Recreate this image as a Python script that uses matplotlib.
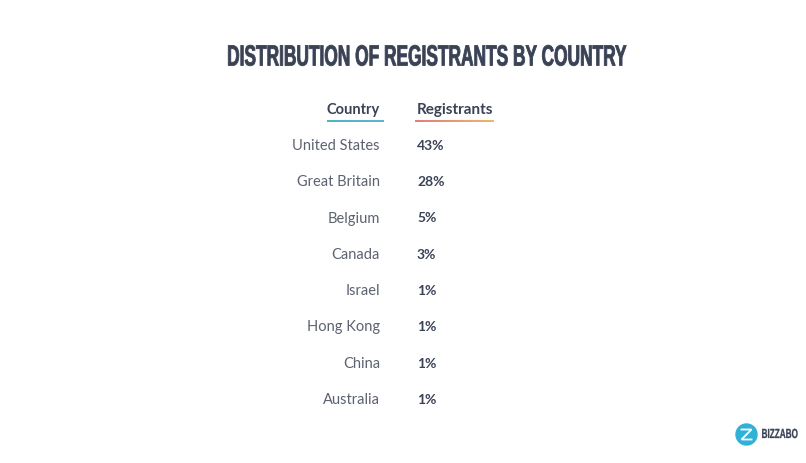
import numpy as np
import matplotlib
matplotlib.use('Agg')
import matplotlib.pyplot as plt
import matplotlib.patheffects as pe
from matplotlib.colors import LinearSegmentedColormap
from matplotlib.patches import Circle
from matplotlib.transforms import Affine2D

countries = ['United States', 'Great Britain', 'Belgium', 'Canada',
             'Israel', 'Hong Kong', 'China', 'Australia']
registrants = [43, 28, 5, 3, 1, 1, 1, 1]
title = 'DISTRIBUTION OF REGISTRANTS BY COUNTRY'
dark = '#3a4256'
grey = '#5c6270'


class SqueezeX(pe.AbstractPathEffect):
    # no condensed font here, so squeeze the glyphs about a pixel column
    def __init__(self, sx, x0, lw=0.0):
        super().__init__()
        self.sx = sx
        self.x0 = x0
        self.lw = lw

    def draw_path(self, renderer, gc, tpath, affine, rgbFace=None):
        aff = affine + Affine2D().translate(-self.x0, 0).scale(self.sx, 1).translate(self.x0, 0)
        gc.set_linewidth(self.lw)
        gc.set_foreground(rgbFace)
        renderer.draw_path(gc, tpath, aff, rgbFace)


def gradient_rule(ax, x0, x1, y, c0, c1):
    cmap = LinearSegmentedColormap.from_list('rule', [c0, c1])
    grad = np.linspace(0, 1, 64).reshape(1, -1)
    ax.imshow(grad, cmap=cmap, extent=(x0, x1, y + 1, y - 1), aspect='auto', zorder=2)


fig = plt.figure(figsize=(8.06, 4.63), dpi=100)
ax = fig.add_axes([0, 0, 1, 1])

ax.text(427, 57.5, title, ha='center', va='center', fontsize=21, fontweight='bold',
        family='Liberation Sans', color=dark,
        path_effects=[SqueezeX(0.594, 427, 0.6)])

ax.text(380, 110, 'Country', ha='right', va='center', fontsize=10.5, fontweight='bold',
        family='Lato', color=dark)
ax.text(417, 110, 'Registrants', ha='left', va='center', fontsize=11, fontweight='bold',
        family='Lato', color=dark)
gradient_rule(ax, 327, 384, 121, '#4fb3c8', '#5bb8cf')
gradient_rule(ax, 415, 494, 121, '#e07f7f', '#f0b56c')

for i, (name, val) in enumerate(zip(countries, registrants)):
    y = 146 + i * 36.25
    ax.text(380, y, name, ha='right', va='center', fontsize=10.5,
            family='Lato', color=grey)
    ax.text(417, y, '%d%%' % val, ha='left', va='center', fontsize=10,
            fontweight='bold', family='Lato', color=dark)

# logo, the Z in the circle is part of the icon
ax.add_patch(Circle((746.5, 434.5), 10.5, color='#2fb2d6', zorder=3))
ax.plot([741.5, 751.5, 741.5, 751.5], [429.5, 429.5, 439.5, 439.5], color='white',
        lw=1.3, solid_joinstyle='miter', zorder=4)
ax.text(798, 435, 'BIZZABO', ha='right', va='center', fontsize=9.5, fontweight='bold',
        family='Liberation Sans', color=dark,
        path_effects=[SqueezeX(0.62, 798, 0.2)])

ax.set_xlim(0, 806)
ax.set_ylim(463, 0)
ax.axis('off')
fig.savefig('out.png', dpi=100)
